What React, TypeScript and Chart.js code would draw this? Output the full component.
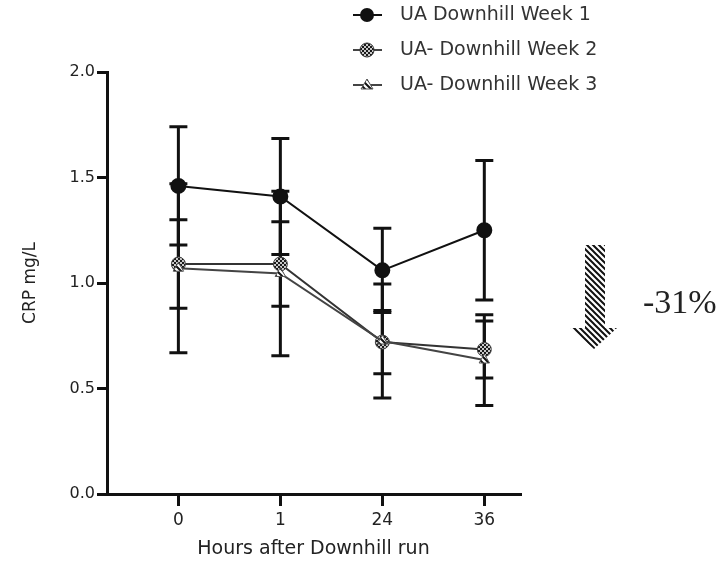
import { useEffect, useRef } from 'react';
import { Chart, registerables } from 'chart.js';

Chart.register(...registerables);

const categories = ['0', '1', '24', '36'];
const yTickValues = [0, 0.5, 1.0, 1.5, 2.0];
const seriesNames = ['UA Downhill Week 1', 'UA- Downhill Week 2', 'UA- Downhill Week 3'];

const week1 = [1.46, 1.41, 1.06, 1.25];
const week1Err = [0.28, 0.275, 0.2, 0.33];
const week2 = [1.09, 1.09, 0.72, 0.685];
const week2Err = [0.21, 0.2, 0.15, 0.135];
const week3 = [1.07, 1.045, 0.725, 0.635];
const week3Err = [0.4, 0.39, 0.27, 0.215];

const annotationText = '-31%';
const FONT = '"DejaVu Sans", "Liberation Sans", Arial, sans-serif';

function makeChecker(): CanvasPattern | string {
  const c = document.createElement('canvas');
  c.width = 4;
  c.height = 4;
  const g = c.getContext('2d');
  if (!g) return '#666';
  g.fillStyle = '#c8c8c8';
  g.fillRect(0, 0, 4, 4);
  g.fillStyle = '#1a1a1a';
  g.fillRect(0, 0, 2, 2);
  g.fillRect(2, 2, 2, 2);
  return g.createPattern(c, 'repeat') || '#666';
}

function makeHatch(): CanvasPattern | string {
  const c = document.createElement('canvas');
  c.width = 6;
  c.height = 6;
  const g = c.getContext('2d');
  if (!g) return '#555';
  g.fillStyle = '#fff';
  g.fillRect(0, 0, 6, 6);
  g.strokeStyle = '#111';
  g.lineWidth = 2;
  g.beginPath();
  g.moveTo(-1, -1);
  g.lineTo(7, 7);
  g.moveTo(-4, 2);
  g.lineTo(4, 10);
  g.moveTo(2, -4);
  g.lineTo(10, 4);
  g.stroke();
  return g.createPattern(c, 'repeat') || '#555';
}

export default function App() {
  const ref = useRef<HTMLCanvasElement | null>(null);

  useEffect(() => {
    if (!ref.current) return;
    const checker = makeChecker();
    const hatch = makeHatch();
    const values = [week1, week2, week3];
    const errors = [week1Err, week2Err, week3Err];

    const errorBars = {
      id: 'errorBars',
      beforeDatasetsDraw(chart: any) {
        const { ctx } = chart;
        const xs = chart.scales.x;
        const ys = chart.scales.y;
        ctx.save();
        ctx.strokeStyle = '#111';
        ctx.lineWidth = 3;
        for (let s = values.length - 1; s >= 0; s--) {
          values[s].forEach((v, i) => {
            const e = errors[s][i];
            const px = xs.getPixelForValue(i);
            const top = ys.getPixelForValue(v + e);
            const bot = ys.getPixelForValue(v - e);
            ctx.beginPath();
            ctx.moveTo(px, top);
            ctx.lineTo(px, bot);
            ctx.moveTo(px - 9, top);
            ctx.lineTo(px + 9, top);
            ctx.moveTo(px - 9, bot);
            ctx.lineTo(px + 9, bot);
            ctx.stroke();
          });
        }
        ctx.restore();
      },
    };

    const drawMarker = (ctx: CanvasRenderingContext2D, idx: number, x: number, y: number) => {
      ctx.save();
      if (idx === 0) {
        ctx.fillStyle = '#111';
        ctx.beginPath();
        ctx.arc(x, y, 7, 0, Math.PI * 2);
        ctx.fill();
      } else if (idx === 1) {
        ctx.fillStyle = checker as any;
        ctx.strokeStyle = '#333';
        ctx.lineWidth = 1;
        ctx.beginPath();
        ctx.arc(x, y, 7, 0, Math.PI * 2);
        ctx.fill();
        ctx.stroke();
      } else {
        ctx.fillStyle = hatch as any;
        ctx.strokeStyle = '#555';
        ctx.lineWidth = 1;
        ctx.beginPath();
        ctx.moveTo(x, y - 6);
        ctx.lineTo(x + 6, y + 4);
        ctx.lineTo(x - 6, y + 4);
        ctx.closePath();
        ctx.fill();
        ctx.stroke();
      }
      ctx.restore();
    };

    const overlay = {
      id: 'overlay',
      afterDraw(chart: any) {
        const { ctx } = chart;
        ctx.save();
        const rows = [15, 50, 85];
        seriesNames.forEach((name, i) => {
          const y = rows[i];
          ctx.strokeStyle = i === 0 ? '#111' : '#444';
          ctx.lineWidth = 2;
          ctx.beginPath();
          ctx.moveTo(353, y);
          ctx.lineTo(382, y);
          ctx.stroke();
          drawMarker(ctx, i, 367, y);
          ctx.fillStyle = '#333';
          ctx.font = `19px ${FONT}`;
          ctx.textBaseline = 'middle';
          ctx.textAlign = 'left';
          ctx.fillText(name, 400, y);
        });
        ctx.fillStyle = hatch as any;
        ctx.beginPath();
        ctx.moveTo(585, 245);
        ctx.lineTo(605, 245);
        ctx.lineTo(605, 328);
        ctx.lineTo(617, 328);
        ctx.lineTo(594, 349);
        ctx.lineTo(570, 328);
        ctx.lineTo(585, 328);
        ctx.closePath();
        ctx.fill();
        ctx.fillStyle = '#222';
        ctx.font = '34px "Liberation Serif", "DejaVu Serif", serif';
        ctx.textBaseline = 'alphabetic';
        ctx.textAlign = 'left';
        ctx.fillText(annotationText, 643, 313);
        ctx.restore();
      },
    };

    const chart = new Chart(ref.current, {
      type: 'line',
      data: {
        datasets: [
          {
            label: seriesNames[0],
            data: week1.map((v, i) => ({ x: i, y: v })),
            borderColor: '#111',
            borderWidth: 2,
            pointStyle: 'circle',
            pointRadius: 7,
            pointBackgroundColor: '#111',
            pointBorderColor: '#111',
          },
          {
            label: seriesNames[1],
            data: week2.map((v, i) => ({ x: i, y: v })),
            borderColor: '#333',
            borderWidth: 2,
            pointStyle: 'circle',
            pointRadius: 7,
            pointBackgroundColor: checker as any,
            pointBorderColor: '#444',
            pointBorderWidth: 1,
          },
          {
            label: seriesNames[2],
            data: week3.map((v, i) => ({ x: i, y: v })),
            borderColor: '#444',
            borderWidth: 2,
            pointStyle: 'triangle',
            pointRadius: 6,
            pointBackgroundColor: hatch as any,
            pointBorderColor: '#555',
            pointBorderWidth: 1,
          },
        ].reverse(),
      },
      options: {
        animation: false,
        responsive: true,
        maintainAspectRatio: false,
        layout: { padding: { top: 72, right: 208, left: 0, bottom: 0 } },
        plugins: { legend: { display: false }, tooltip: { enabled: false } },
        scales: {
          x: {
            type: 'linear',
            min: -0.7,
            max: 3.35,
            afterBuildTicks(scale: any) {
              scale.ticks = categories.map((_, i) => ({ value: i }));
            },
            afterFit(scale: any) {
              scale.height = 79;
            },
            ticks: {
              callback: (v: any) => categories[Number(v)] ?? '',
              color: '#222',
              font: { family: FONT, size: 17 },
              padding: 4,
              autoSkip: false,
              maxRotation: 0,
            },
            grid: { drawOnChartArea: false, drawTicks: true, tickLength: 12, color: '#111', lineWidth: 3 },
            border: { color: '#111', width: 3 },
            title: {
              display: true,
              text: 'Hours after Downhill run',
              color: '#222',
              font: { family: FONT, size: 19 },
              padding: { top: 4, bottom: 13 },
            },
          },
          y: {
            min: 0,
            max: 2,
            afterBuildTicks(scale: any) {
              scale.ticks = yTickValues.map((v) => ({ value: v }));
            },
            afterFit(scale: any) {
              scale.width = 107;
            },
            ticks: {
              callback: (v: any) => Number(v).toFixed(1),
              color: '#222',
              font: { family: FONT, size: 16 },
              padding: 2,
            },
            grid: { drawOnChartArea: false, drawTicks: true, tickLength: 10, color: '#111', lineWidth: 3 },
            border: { color: '#111', width: 3 },
            title: {
              display: true,
              text: 'CRP mg/L',
              color: '#222',
              font: { family: FONT, size: 17 },
              padding: { top: 20, bottom: 0 },
            },
          },
        },
      },
      plugins: [errorBars, overlay],
    } as any);

    return () => chart.destroy();
  }, []);

  return (
    <div style={{ position: 'fixed', left: 0, top: 0, width: 728, height: 573, background: '#fff' }}>
      <canvas ref={ref} />
    </div>
  );
}
